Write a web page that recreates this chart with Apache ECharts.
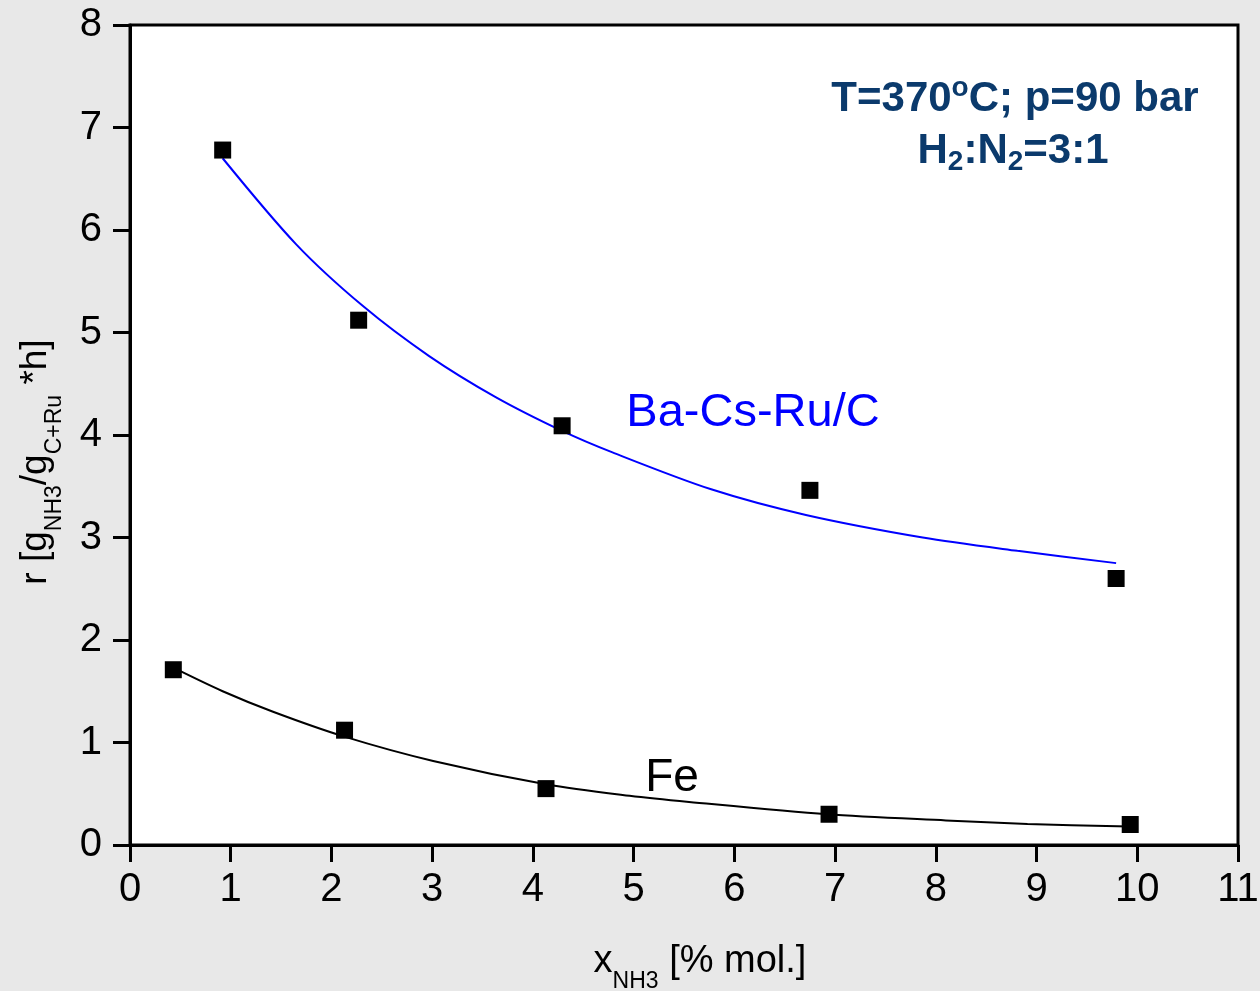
<!DOCTYPE html>
<html>
<head>
<meta charset="utf-8">
<script src="https://cdn.jsdelivr.net/npm/echarts@6/dist/echarts.min.js"></script>
<style>
  html, body { margin: 0; padding: 0; background: #e8e8e8; }
  #main { width: 1260px; height: 991px; }
</style>
</head>
<body>
<div id="main"></div>
<script>
// measured points
const baX = [0.92, 2.27, 4.29, 6.75, 9.79];
const baY = [6.78, 5.12, 4.09, 3.46, 2.60];
const feX = [0.43, 2.13, 4.13, 6.94, 9.93];
const feY = [1.71, 1.12, 0.55, 0.30, 0.20];

// fitted curves
const baFitX = [0.92, 1.65, 2.31, 2.97, 3.63, 4.29, 4.79, 5.77, 6.71, 7.87, 8.81, 9.79];
const baFitY = [6.70, 5.86, 5.26, 4.77, 4.37, 4.04, 3.83, 3.47, 3.22, 3.00, 2.87, 2.75];
const feFitX = [0.45, 0.92, 1.42, 2.12, 3.01, 4.14, 4.96, 5.55, 6.92, 8.10, 8.91, 9.92];
const feFitY = [1.72, 1.50, 1.30, 1.06, 0.82, 0.59, 0.48, 0.42, 0.30, 0.24, 0.205, 0.18];

const xTicks = [0, 1, 2, 3, 4, 5, 6, 7, 8, 9, 10, 11];
const yTicks = [0, 1, 2, 3, 4, 5, 6, 7, 8];

const font = '"Liberation Sans", Arial, sans-serif';
const navy = '#0b3a6c';
const pairs = (xs, ys) => xs.map((x, i) => [x, ys[i]]);

const chart = echarts.init(document.getElementById('main'));

const option = {
  backgroundColor: '#e8e8e8',
  animation: false,
  grid: {
    left: 130, top: 25, right: 22, bottom: 146,
    outerBoundsMode: 'none',
    containLabel: false,
    show: true, backgroundColor: '#ffffff',
    borderColor: '#000', borderWidth: 3
  },
  xAxis: {
    type: 'value', min: xTicks[0], max: xTicks[xTicks.length - 1], interval: 1,
    axisLine: { lineStyle: { color: '#000', width: 3 } },
    axisTick: { inside: false, length: 17, lineStyle: { width: 3 } },
    splitLine: { show: false },
    axisLabel: { color: '#000', fontSize: 40, fontFamily: font, margin: 25 },
    name: '{m|x}{s|NH3}{m| [% mol.]}',
    nameLocation: 'middle',
    nameGap: 86,
    nameTextStyle: {
      fontFamily: font,
      padding: [0, 0, 0, 32],
      rich: {
        m: { fontSize: 38, fontFamily: font, color: '#000', lineHeight: 62 },
        s: { fontSize: 23, fontFamily: font, color: '#000', lineHeight: 22, verticalAlign: 'bottom' }
      }
    }
  },
  yAxis: {
    type: 'value', min: yTicks[0], max: yTicks[yTicks.length - 1], interval: 1,
    axisLine: { lineStyle: { color: '#000', width: 3 } },
    axisTick: { inside: false, length: 17, lineStyle: { width: 3 } },
    splitLine: { show: false },
    axisLabel: { color: '#000', fontSize: 40, fontFamily: font, margin: 28 },
    name: '{m|r [g}{s|NH3}{m|/g}{s|C+Ru}{m| *h]}',
    nameLocation: 'middle',
    nameRotate: 90,
    nameGap: 64,
    nameTextStyle: {
      fontFamily: font,
      padding: [0, 54, 0, 0],
      rich: {
        m: { fontSize: 37, fontFamily: font, color: '#000', lineHeight: 60 },
        s: { fontSize: 23, fontFamily: font, color: '#000', lineHeight: 22, verticalAlign: 'bottom' }
      }
    }
  },
  graphic: [
    {
      type: 'text', x: 1015, y: 99,
      style: {
        text: '{b|T=370}{sup|o}{b|C; p=90 bar}',
        align: 'center', verticalAlign: 'middle',
        rich: {
          b: { font: 'bold 42px ' + font, fill: navy, lineHeight: 50 },
          sup: { font: 'bold 28px ' + font, fill: navy, lineHeight: 32, verticalAlign: 'top' }
        }
      }
    },
    {
      type: 'text', x: 1013, y: 151,
      style: {
        text: '{b|H}{s|2}{b|:N}{s|2}{b|=3:1}',
        align: 'center', verticalAlign: 'middle',
        rich: {
          b: { font: 'bold 42px ' + font, fill: navy, lineHeight: 50 },
          s: { font: 'bold 28px ' + font, fill: navy, lineHeight: 26, verticalAlign: 'bottom' }
        }
      }
    },
    {
      type: 'text', x: 753, y: 413,
      style: {
        text: 'Ba-Cs-Ru/C', font: '47px ' + font, fill: '#0000ff',
        align: 'center', verticalAlign: 'middle'
      }
    },
    {
      type: 'text', x: 672, y: 778,
      style: {
        text: 'Fe', font: '46px ' + font, fill: '#000',
        align: 'center', verticalAlign: 'middle'
      }
    }
  ],
  series: [
    {
      name: 'Ba-Cs-Ru/C fit', type: 'line', data: pairs(baFitX, baFitY),
      smooth: 0.3, showSymbol: false, lineStyle: { color: '#0000ff', width: 2 }, z: 2
    },
    {
      name: 'Fe fit', type: 'line', data: pairs(feFitX, feFitY),
      smooth: 0.3, showSymbol: false, lineStyle: { color: '#000', width: 2 }, z: 2
    },
    {
      name: 'Ba-Cs-Ru/C', type: 'scatter', data: pairs(baX, baY),
      symbol: 'rect', symbolSize: 17, itemStyle: { color: '#000', opacity: 1 }, z: 3
    },
    {
      name: 'Fe', type: 'scatter', data: pairs(feX, feY),
      symbol: 'rect', symbolSize: 17, itemStyle: { color: '#000', opacity: 1 }, z: 3
    }
  ]
};

chart.setOption(option);
</script>
</body>
</html>
